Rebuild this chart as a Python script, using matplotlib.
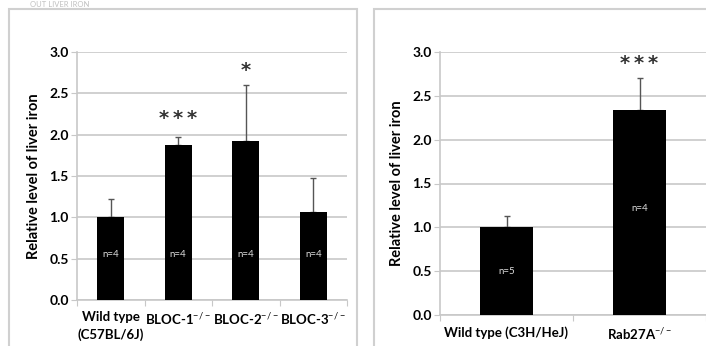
import matplotlib.pyplot as plt
from matplotlib.patches import Rectangle
import numpy as np

plt.rcParams['font.family'] = ['Lato', 'DejaVu Sans']
plt.rcParams['mathtext.fontset'] = 'custom'
plt.rcParams['mathtext.rm'] = 'Lato'
plt.rcParams['mathtext.bf'] = 'Lato:bold'

# left panel: BLOC mutants
left_labels = ['Wild type\n(C57BL/6J)', r'BLOC-1$^{\mathrm{-/-}}$',
               r'BLOC-2$^{\mathrm{-/-}}$', r'BLOC-3$^{\mathrm{-/-}}$']
left_vals = [1.0, 1.88, 1.92, 1.07]
left_err = [0.22, 0.09, 0.68, 0.40]
left_n = ['n=4', 'n=4', 'n=4', 'n=4']
left_sig = ['', '***', '*', '']
left_sig_y = [0, 2.2, 2.78, 0]
left_n_y = [0.55, 0.55, 0.55, 0.55]

# right panel: Rab27A
right_labels = ['Wild type (C3H/HeJ)', r'Rab27A$^{\mathrm{-/-}}$']
right_vals = [1.0, 2.34]
right_err = [0.13, 0.36]
right_n = ['n=5', 'n=4']
right_sig = ['', '***']
right_sig_y = [0, 2.87]
right_n_y = [0.5, 1.22]

W, H = 706, 346
fig = plt.figure(figsize=(7.06, 3.46), dpi=100)

# panel frames
fig.patches.append(Rectangle((9/W, -0.1), 348/W, 1.1 - 9/H, transform=fig.transFigure,
                             fill=False, edgecolor='#d0d0d0', linewidth=1.5))
fig.patches.append(Rectangle((374/W, -0.1), 0.6, 1.1 - 9/H, transform=fig.transFigure,
                             fill=False, edgecolor='#d0d0d0', linewidth=1.5))
fig.text(30/W, 1 - 1/H, 'OUT LIVER IRON', color='#c0c0c0', fontsize=5.5, va='top', ha='left')

ax1 = fig.add_axes([77/W, (H - 300)/H, 270/W, 248/H])
ax2 = fig.add_axes([440/W, (H - 315)/H, 266/W, 263/H])


def draw(ax, labels, vals, err, nlab, n_y, sig, sig_y):
    x = np.arange(len(vals))
    ax.bar(x, vals, width=0.4, color='black', zorder=3)
    ax.errorbar(x, vals, yerr=[np.zeros(len(err)), err], fmt='none',
                ecolor='#555555', elinewidth=1, capsize=2.5, capthick=1, zorder=2)
    for i in range(len(vals)):
        ax.text(x[i], n_y[i], nlab[i], color='#dddddd', fontsize=7, ha='center', va='center', zorder=4)
        if sig[i]:
            ax.text(x[i], sig_y[i], '\u2009'.join(sig[i]), color='#333333', fontsize=14,
                    fontweight='bold', ha='center', va='center', family='DejaVu Sans')
    ax.set_xlim(-0.5, len(vals) - 0.5)
    ax.set_ylim(0, 3.0)
    ax.set_yticks(np.arange(0, 3.01, 0.5))
    ax.set_yticklabels(['%.1f' % v for v in np.arange(0, 3.01, 0.5)], fontsize=10, fontweight='bold')
    ax.yaxis.grid(True, color='#c8c8c8', linewidth=1.2, zorder=0)
    ax.set_axisbelow(True)
    ax.set_xticks(np.arange(-0.5, len(vals) - 0.4, 1.0))
    ax.set_xticklabels([])
    ax.set_xticks(x, minor=True)
    ax.set_xticklabels(labels, minor=True, fontsize=9.5, fontweight='bold', linespacing=1.5)
    ax.tick_params(axis='x', which='minor', length=0, pad=8)
    ax.tick_params(axis='x', which='major', length=4, color='#c8c8c8', direction='out')
    ax.tick_params(axis='y', length=4, color='#c8c8c8', pad=2)
    for s in ['top', 'right']:
        ax.spines[s].set_visible(False)
    for s in ['left', 'bottom']:
        ax.spines[s].set_color('#c8c8c8')
        ax.spines[s].set_linewidth(1.2)
    ax.set_ylabel('Relative level of liver iron', fontsize=10.5, fontweight='bold', labelpad=6)


draw(ax1, left_labels, left_vals, left_err, left_n, left_n_y, left_sig, left_sig_y)
draw(ax2, right_labels, right_vals, right_err, right_n, right_n_y, right_sig, right_sig_y)

fig.savefig('out.png', dpi=100)
